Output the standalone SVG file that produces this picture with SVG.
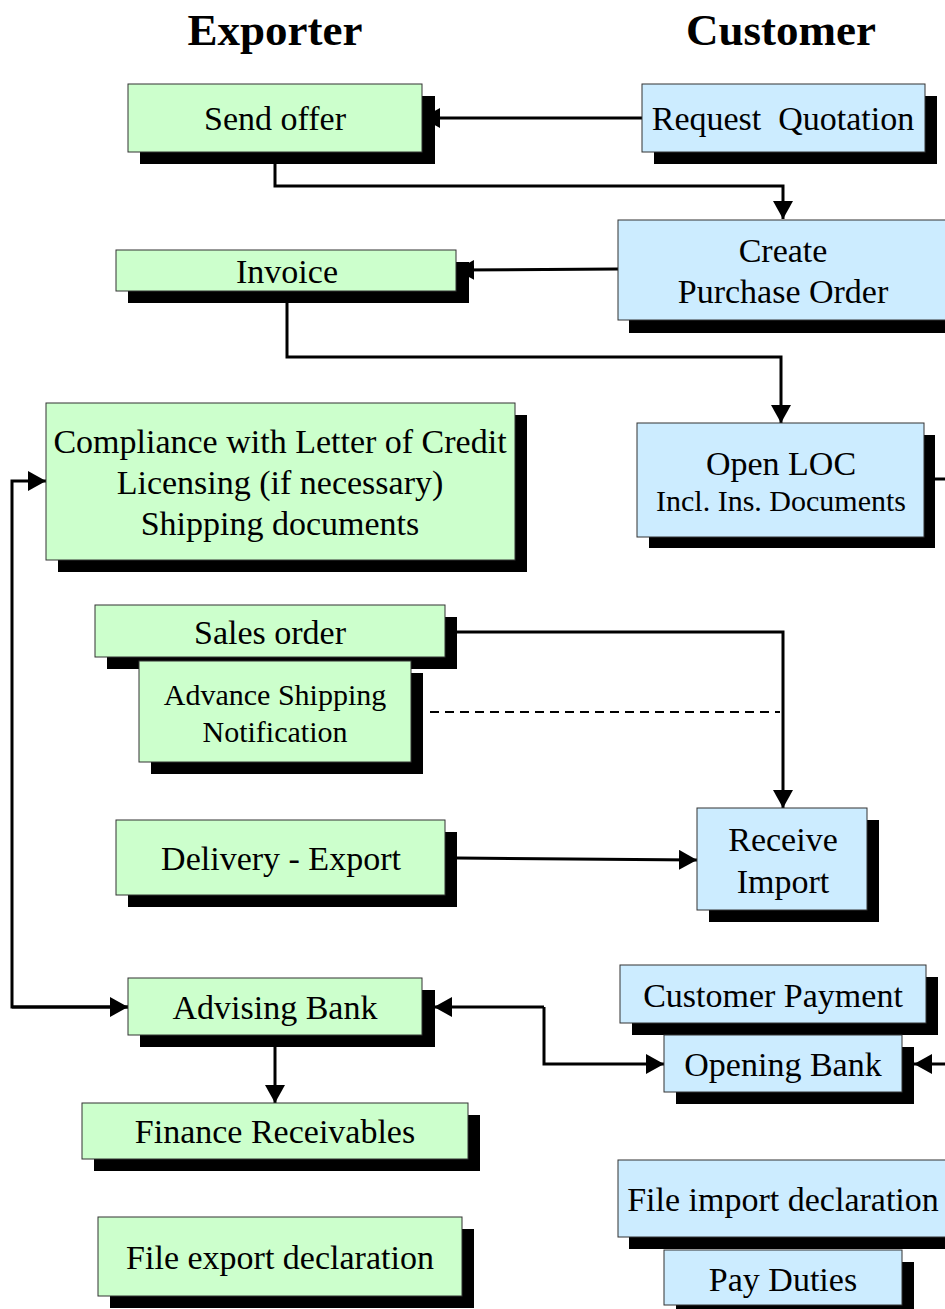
<svg xmlns="http://www.w3.org/2000/svg" width="945" height="1309" viewBox="0 0 945 1309">
<style>
.sh{fill:#000}
.g{fill:#CCFFCC;stroke:#333;stroke-width:1}
.b{fill:#CCECFF;stroke:#333;stroke-width:1}
text{font-family:"Liberation Serif","Times New Roman",serif;fill:#000;text-anchor:middle}
.t{font-size:34px}
.s{font-size:30px}
.h{font-size:45px;font-weight:bold}
.c{fill:none;stroke:#000;stroke-width:3}
.d{fill:none;stroke:#000;stroke-width:2;stroke-dasharray:9 6}
</style>
<defs>
<marker id="ah" markerUnits="userSpaceOnUse" markerWidth="20" markerHeight="22" refX="18" refY="10" orient="auto">
<path d="M0,0 L18,10 L0,20 z" fill="#000"/>
</marker>
</defs>
<rect width="945" height="1309" fill="#fff"/>
<text class="h" x="275" y="45">Exporter</text>
<text class="h" x="781" y="45">Customer</text>

<g id="connectors">
<path class="c" d="M642,118 H422" marker-end="url(#ah)"/>
<path class="c" d="M275,152 V186 H783 V219" marker-end="url(#ah)"/>
<path class="c" d="M618,269 L456,270" marker-end="url(#ah)"/>
<path class="c" d="M287,303 V357 H781 V423" marker-end="url(#ah)"/>
<path class="c" d="M935,479 H945"/>
<path class="c" d="M128,1007 H12 V481 H46" marker-end="url(#ah)"/>
<path class="c" d="M12,1007 H128" marker-end="url(#ah)"/>
<path class="c" d="M457,632 H783 V808" marker-end="url(#ah)"/>
<path class="d" d="M430,712 H780"/>
<path class="c" d="M457,858 L697,860" marker-end="url(#ah)"/>
<path class="c" d="M544,1007 H434" marker-end="url(#ah)"/>
<path class="c" d="M544,1007 V1064 H664" marker-end="url(#ah)"/>
<path class="c" d="M945,1064 H914" marker-end="url(#ah)"/>
<path class="c" d="M275,1047 V1103" marker-end="url(#ah)"/>
</g>

<g id="send-offer">
<rect class="sh" x="140" y="96" width="295" height="68"/>
<rect class="g" x="128" y="84" width="294" height="68"/>
<text class="t" x="275" y="130">Send offer</text>
</g>
<g id="request-quotation">
<rect class="sh" x="654" y="96" width="283" height="68"/>
<rect class="b" x="642" y="84" width="283" height="68"/>
<text class="t" x="783" y="130" xml:space="preserve">Request  Quotation</text>
</g>
<g id="create-po">
<rect class="sh" x="629" y="232" width="330" height="101"/>
<rect class="b" x="618" y="220" width="340" height="100"/>
<text class="t" x="783" y="262">Create</text>
<text class="t" x="783" y="303">Purchase Order</text>
</g>
<g id="invoice">
<rect class="sh" x="128" y="262" width="341" height="41"/>
<rect class="g" x="116" y="250" width="340" height="41"/>
<text class="t" x="287" y="283">Invoice</text>
</g>
<g id="open-loc">
<rect class="sh" x="649" y="435" width="286" height="113"/>
<rect class="b" x="637" y="423" width="287" height="114"/>
<text class="t" x="781" y="475">Open LOC</text>
<text style="font-size:30px" x="781" y="511">Incl. Ins. Documents</text>
</g>
<g id="compliance">
<rect class="sh" x="58" y="415" width="469" height="157"/>
<rect class="g" x="46" y="403" width="469" height="157"/>
<text class="t" x="280" y="453">Compliance with Letter of Credit</text>
<text class="t" x="280" y="494">Licensing (if necessary)</text>
<text class="t" x="280" y="535">Shipping documents</text>
</g>
<g id="sales-order">
<rect class="sh" x="107" y="617" width="350" height="52"/>
<rect class="g" x="95" y="605" width="350" height="52"/>
<text class="t" x="270" y="644">Sales order</text>
</g>
<g id="asn">
<rect class="sh" x="151" y="673" width="272" height="101"/>
<rect class="g" x="139" y="661" width="272" height="101"/>
<text class="s" x="275" y="705">Advance Shipping</text>
<text class="s" x="275" y="742">Notification</text>
</g>
<g id="delivery-export">
<rect class="sh" x="128" y="832" width="329" height="75"/>
<rect class="g" x="116" y="820" width="329" height="75"/>
<text class="t" x="281" y="870">Delivery - Export</text>
</g>
<g id="receive-import">
<rect class="sh" x="709" y="820" width="170" height="102"/>
<rect class="b" x="697" y="808" width="170" height="102"/>
<text class="t" x="783" y="851">Receive</text>
<text class="t" x="783" y="893">Import</text>
</g>
<g id="advising-bank">
<rect class="sh" x="140" y="990" width="295" height="57"/>
<rect class="g" x="128" y="978" width="294" height="57"/>
<text class="t" x="275" y="1019">Advising Bank</text>
</g>
<g id="finance-receivables">
<rect class="sh" x="94" y="1115" width="386" height="56"/>
<rect class="g" x="82" y="1103" width="386" height="56"/>
<text class="t" x="275" y="1143">Finance Receivables</text>
</g>
<g id="customer-payment">
<rect class="sh" x="632" y="977" width="306" height="58"/>
<rect class="b" x="620" y="965" width="306" height="58"/>
<text class="t" x="773" y="1007">Customer Payment</text>
</g>
<g id="opening-bank">
<rect class="sh" x="676" y="1047" width="238" height="57"/>
<rect class="b" x="664" y="1035" width="238" height="57"/>
<text class="t" x="783" y="1076">Opening Bank</text>
</g>
<g id="file-import">
<rect class="sh" x="629" y="1172" width="330" height="77"/>
<rect class="b" x="618" y="1160" width="340" height="77"/>
<text class="t" x="783" y="1211">File import declaration</text>
</g>
<g id="pay-duties">
<rect class="sh" x="676" y="1262" width="238" height="56"/>
<rect class="b" x="664" y="1250" width="238" height="55"/>
<text class="t" x="783" y="1291">Pay Duties</text>
</g>
<g id="file-export">
<rect class="sh" x="110" y="1229" width="364" height="79"/>
<rect class="g" x="98" y="1217" width="364" height="79"/>
<text class="t" x="280" y="1269">File export declaration</text>
</g>
</svg>
